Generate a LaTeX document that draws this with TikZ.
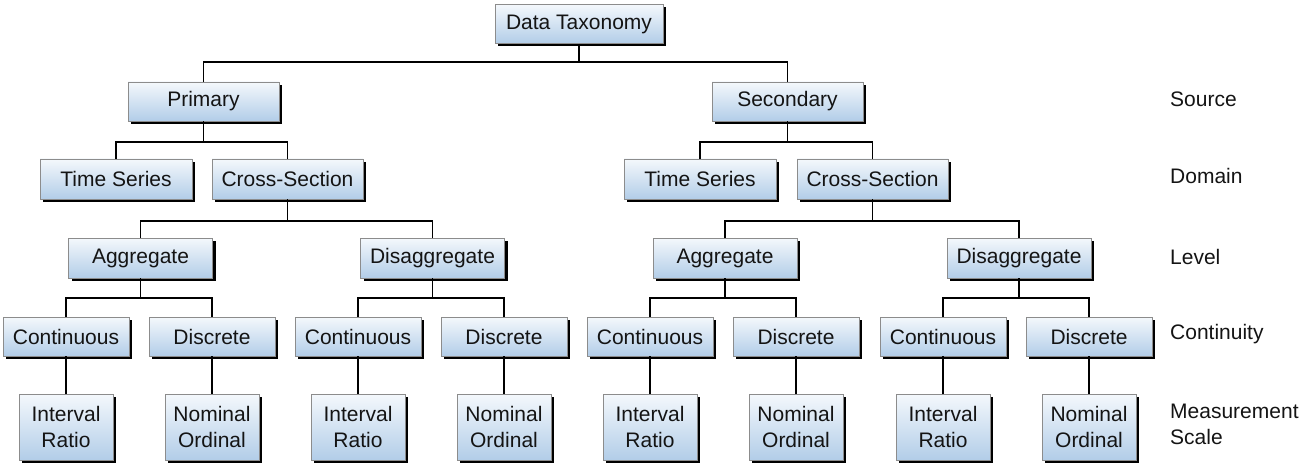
\documentclass[tikz,border=0pt]{standalone}
\usepackage{fontspec}
\setmainfont{Liberation Sans}
\usetikzlibrary{shadows}
\definecolor{boxtop}{RGB}{244,248,252}
\definecolor{boxbot}{RGB}{178,205,232}
\definecolor{boxline}{RGB}{140,140,140}
\definecolor{txt}{RGB}{20,20,20}
\begin{document}
\begin{tikzpicture}[x=1pt,y=-1pt,
  box/.style={draw=boxline, line width=0.8pt, top color=boxtop, bottom color=boxbot,
    drop shadow={shadow xshift=3pt, shadow yshift=-3pt, fill=black, opacity=1},
    inner sep=0pt, text=txt, font=\fontsize{21}{26}\selectfont, align=center},
  topbox/.style={box, minimum width=151pt, minimum height=39pt},
  lvlbox/.style={box, minimum width=144pt, minimum height=40pt},
  conbox/.style={box, minimum width=126pt, minimum height=39pt},
  msbox/.style={box, minimum width=94pt, minimum height=66pt},
  conn/.style={draw=black, line width=1.4pt},
  rowlabel/.style={anchor=west, inner sep=0pt, text=txt, font=\fontsize{21}{26}\selectfont, align=left}
]
\useasboundingbox (0,0) rectangle (1300,465);

\coordinate (b0) at (0,62);
\coordinate (b1) at (0,142);
\coordinate (b2) at (0,221);
\coordinate (b3) at (0,298);

% nodes
\node[topbox, minimum width=168pt] (root) at (579,24) {Data Taxonomy};
\node[topbox] (P) at (203.5,101.5) {Primary};
\node[topbox] (S) at (787.5,101.5) {Secondary};

\node[topbox, minimum width=152pt, minimum height=40pt] (TS1) at (116,179) {Time Series};
\node[topbox, minimum height=40pt] (CS1) at (287.5,179) {Cross-Section};
\node[topbox, minimum width=152pt, minimum height=40pt] (TS2) at (700,179) {Time Series};
\node[topbox, minimum height=40pt] (CS2) at (872.5,179) {Cross-Section};

\node[lvlbox] (A1) at (140.5,258) {Aggregate};
\node[lvlbox] (D1) at (432.5,258) {Disaggregate};
\node[lvlbox] (A2) at (725,258) {Aggregate};
\node[lvlbox] (D2) at (1019,258) {Disaggregate};

\foreach \i/\x in {1/66,2/212,3/358,4/504,5/650,6/796,7/943,8/1089}{
  \pgfmathtruncatemacro{\odd}{mod(\i,2)}
  \ifnum\odd=1
    \node[conbox] (C\i) at (\x,336.5) {Continuous};
    \node[msbox] (M\i) at (\x,427) {Interval\\Ratio};
  \else
    \node[conbox] (C\i) at (\x,336.5) {Discrete};
    \node[msbox] (M\i) at (\x,427) {Nominal\\Ordinal};
  \fi
}

% connectors
\draw[conn] (root.south) -- (root.south |- b0);
\draw[conn] (P.north) -- (P.north |- b0) -- (S.north |- b0) -- (S.north);

\draw[conn] (P.south) -- (P.south |- b1);
\draw[conn] (TS1.north) -- (TS1.north |- b1) -- (CS1.north |- b1) -- (CS1.north);
\draw[conn] (S.south) -- (S.south |- b1);
\draw[conn] (TS2.north) -- (TS2.north |- b1) -- (CS2.north |- b1) -- (CS2.north);

\draw[conn] (CS1.south) -- (CS1.south |- b2);
\draw[conn] (A1.north) -- (A1.north |- b2) -- (D1.north |- b2) -- (D1.north);
\draw[conn] (CS2.south) -- (CS2.south |- b2);
\draw[conn] (A2.north) -- (A2.north |- b2) -- (D2.north |- b2) -- (D2.north);

\draw[conn] (A1.south) -- (A1.south |- b3);
\draw[conn] (C1.north) -- (C1.north |- b3) -- (C2.north |- b3) -- (C2.north);
\draw[conn] (D1.south) -- (D1.south |- b3);
\draw[conn] (C3.north) -- (C3.north |- b3) -- (C4.north |- b3) -- (C4.north);
\draw[conn] (A2.south) -- (A2.south |- b3);
\draw[conn] (C5.north) -- (C5.north |- b3) -- (C6.north |- b3) -- (C6.north);
\draw[conn] (D2.south) -- (D2.south |- b3);
\draw[conn] (C7.north) -- (C7.north |- b3) -- (C8.north |- b3) -- (C8.north);

\foreach \i in {1,...,8}{
  \draw[conn] (C\i.south) -- (M\i.north);
}

% row labels
\node[rowlabel] (lsrc) at (1170,99) {Source};
\node[rowlabel] (ldom) at (1170,176) {Domain};
\node[rowlabel] (llev) at (1170,257) {Level};
\node[rowlabel] (lcon) at (1170,334) {Continuity};
\node[rowlabel] (lmea) at (1170,424) {Measurement\\Scale};
\end{tikzpicture}
\end{document}
